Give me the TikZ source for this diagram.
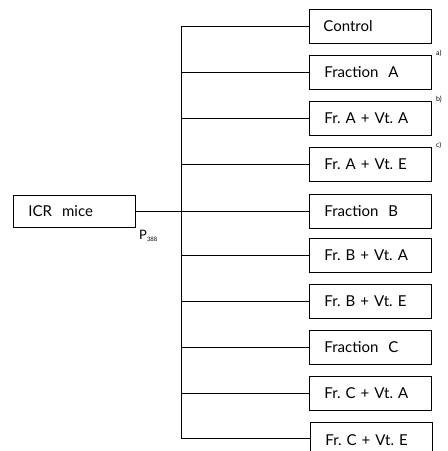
\documentclass[tikz,border=0pt]{standalone}
\usepackage{fontspec}
\setmainfont{Lato}
\frenchspacing
\begin{document}
\begin{tikzpicture}[x=1pt,y=-1pt,
  grp/.style={draw, line width=0.9pt, text width=122pt, align=left, minimum height=34pt, inner xsep=0pt, inner ysep=0pt, font=\fontsize{15}{17}\selectfont\frenchspacing, anchor=west},
  link/.style={line width=0.8pt},
  note/.style={font=\fontsize{7}{8}\selectfont, anchor=south west, inner sep=0pt}]
\useasboundingbox (0,0) rectangle (448,451);
\clip (0,0) rectangle (448,451);
\node[grp] (g1) at (309,26) {\hspace*{14pt}Control};
\node[grp] (g2) at (309,72) {\hspace*{15pt}Fraction\ \ A};
\node[grp] (g3) at (309,118) {\hspace*{15pt}Fr. A + Vt. A};
\node[grp] (g4) at (309,164) {\hspace*{15pt}Fr. A + Vt. E};
\node[grp] (g5) at (309,211) {\hspace*{15pt}Fraction\ \ B};
\node[grp] (g6) at (309,255) {\hspace*{15pt}Fr. B + Vt. A};
\node[grp] (g7) at (309,301) {\hspace*{15pt}Fr. B + Vt. E};
\node[grp] (g8) at (309,347) {\hspace*{15pt}Fraction\ \ C};
\node[grp] (g9) at (309,393) {\hspace*{15pt}Fr. C + Vt. A};
\node[grp, minimum height=36pt] (g10) at (310,440) {\hspace*{15pt}Fr. C + Vt. E};
\node[grp, text width=122pt, minimum height=32pt] (icr) at (13,211) {\hspace*{15pt}ICR\ \ mice};
\node[font=\fontsize{13}{15}\selectfont, anchor=west, inner sep=0pt] (p) at (139,236) {P\textsubscript{\fontsize{6}{7}\selectfont 388}};
\node[note] (na) at (436,57) {a)};
\node[note] (nb) at (436,103) {b)};
\node[note] (nc) at (436,149) {c)};
\coordinate (top) at (181,26);
\coordinate (bot) at (181,438);
\draw[link] (top) -- (bot);
\foreach \i in {1,...,9} {\draw[link] (g\i.west) -- (g\i.west -| top);}
\draw[link] (bot) -- (bot -| g10.west);
\draw[link] (icr.east) -- (icr.east -| g5.west);
\end{tikzpicture}
\end{document}
